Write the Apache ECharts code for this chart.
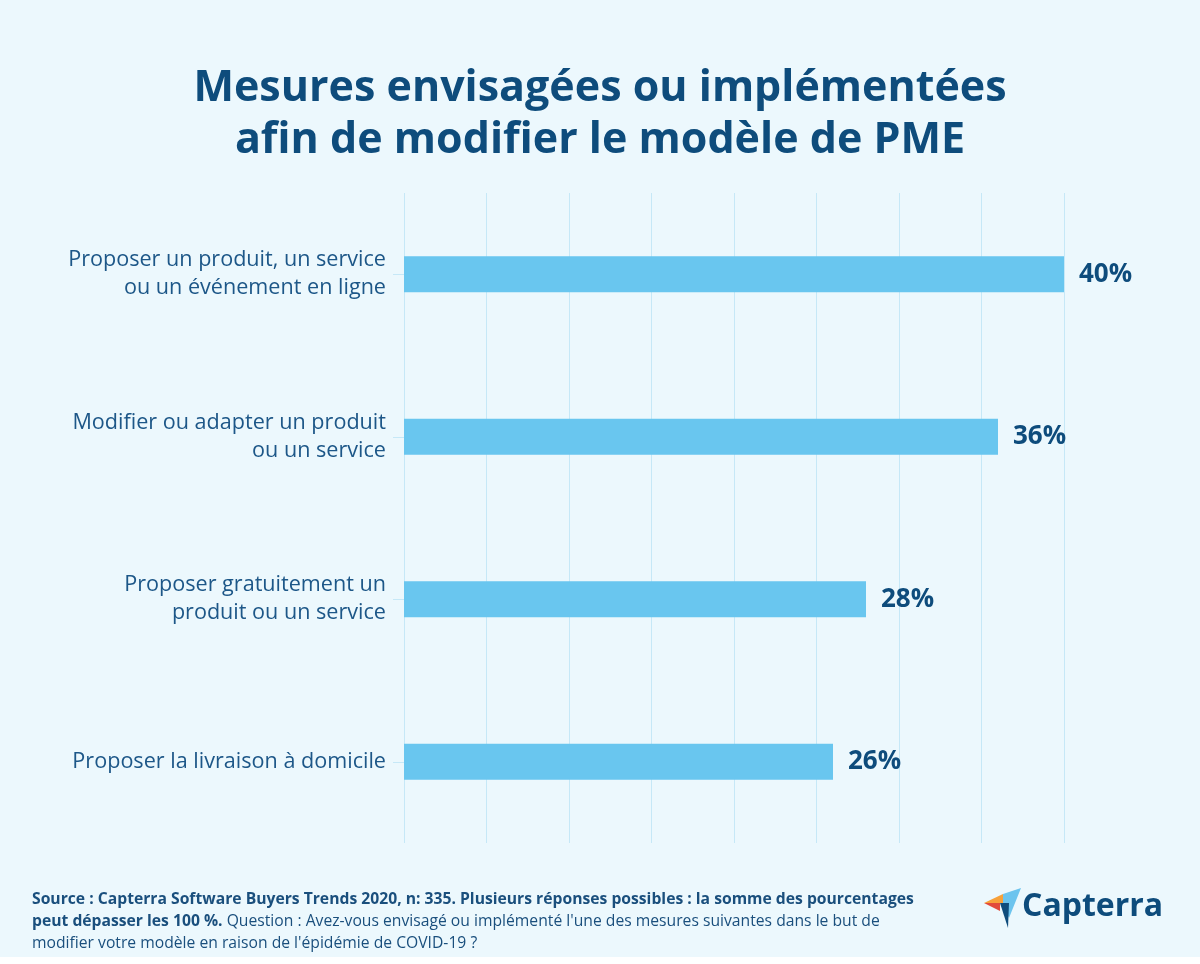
<!DOCTYPE html>
<html>
<head>
<meta charset="utf-8">
<script src="https://cdn.jsdelivr.net/npm/echarts@6/dist/echarts.min.js"></script>
<style>
html,body{margin:0;padding:0;background:#ffffff;}
#chart{width:1200px;height:964px;}
</style>
</head>
<body>
<div id="chart"></div>
<script>
const titleText = 'Mesures envisagées ou implémentées\nafin de modifier le modèle de PME';
const categories = [
  'Proposer un produit, un service\nou un événement en ligne',
  'Modifier ou adapter un produit\nou un service',
  'Proposer gratuitement un\nproduit ou un service',
  'Proposer la livraison à domicile'
];
const values = [40, 36, 28, 26];
const footerBold1 = 'Source : Capterra Software Buyers Trends 2020, n: 335. Plusieurs réponses possibles : la somme des pourcentages';
const footerBold2 = 'peut dépasser les 100 %.';
const footerReg2 = ' Question : Avez-vous envisagé ou implémenté l\'une des mesures suivantes dans le but de';
const footerReg3 = 'modifier votre modèle en raison de l\'épidémie de COVID-19 ?';
const logoText = 'Capterra';

const dark = '#0e4c7c';
const labelColor = '#1d5788';
const font = '"Open Sans", "Noto Sans", sans-serif';

const chart = echarts.init(document.getElementById('chart'), null, {renderer: 'canvas'});
chart.setOption({
  backgroundColor: '#ecf8fd',
  animation: false,
  title: {
    text: titleText,
    left: 'center',
    top: 58,
    textStyle: {fontFamily: font, fontSize: 43, fontWeight: 'bold', color: dark, lineHeight: 52}
  },
  grid: {left: 404, right: 136, top: 193, bottom: 121, containLabel: false},
  xAxis: {
    type: 'value', min: 0, max: 40, interval: 5,
    axisLine: {show: false}, axisTick: {show: false}, axisLabel: {show: false},
    splitLine: {show: true, lineStyle: {color: '#c6e8f7', width: 1}}
  },
  yAxis: {
    type: 'category', inverse: true, data: categories,
    axisLine: {show: false},
    axisTick: {show: true, alignWithLabel: true, length: 11, lineStyle: {color: '#c6e8f7'}},
    axisLabel: {fontFamily: font, fontSize: 21.6, color: labelColor, margin: 18, lineHeight: 28, align: 'right', padding: [12, 0, 0, 0]}
  },
  series: [{
    type: 'bar', data: values, barWidth: 36,
    itemStyle: {color: '#69c6ef'},
    label: {
      show: true, position: 'right', distance: 15, formatter: '{c}%',
      fontFamily: font, fontSize: 26, fontWeight: 'bold', color: dark
    }
  }],
  graphic: [
    {type: 'rect', left: 0, top: 957, shape: {width: 1200, height: 7}, style: {fill: '#ffffff'}, silent: true},
    {
      type: 'text', x: 32, y: 889,
      style: {
        text: '{b|' + footerBold1 + '}\n{b|' + footerBold2 + '}{r|' + footerReg2 + '}\n{r|' + footerReg3 + '}',
        rich: {
          b: {fontFamily: font, fontSize: 15.7, fontWeight: 'bold', fill: '#1a4f7d', lineHeight: 22},
          r: {fontFamily: font, fontSize: 15.7, fontWeight: 'normal', fill: '#1a4f7d', lineHeight: 22}
        }
      }
    },
    {type: 'polygon', shape: {points: [[984, 903], [1003, 894], [1003, 903]]}, style: {fill: '#f7a13a'}},
    {type: 'polygon', shape: {points: [[984, 903], [1000, 903], [1000, 911]]}, style: {fill: '#e24b3b'}},
    {type: 'polygon', shape: {points: [[1003, 894], [1021, 888], [1009, 918], [1003, 903]]}, style: {fill: '#6cc4ee'}},
    {type: 'polygon', shape: {points: [[1000, 903], [1009, 903], [1008, 928]]}, style: {fill: '#0e4c7c'}},
    {
      type: 'text', x: 1022, y: 891,
      style: {text: logoText, fontFamily: font, fontSize: 32, fontWeight: 'bold', fill: '#0e4c7c'}
    }
  ]
});
</script>
</body>
</html>
